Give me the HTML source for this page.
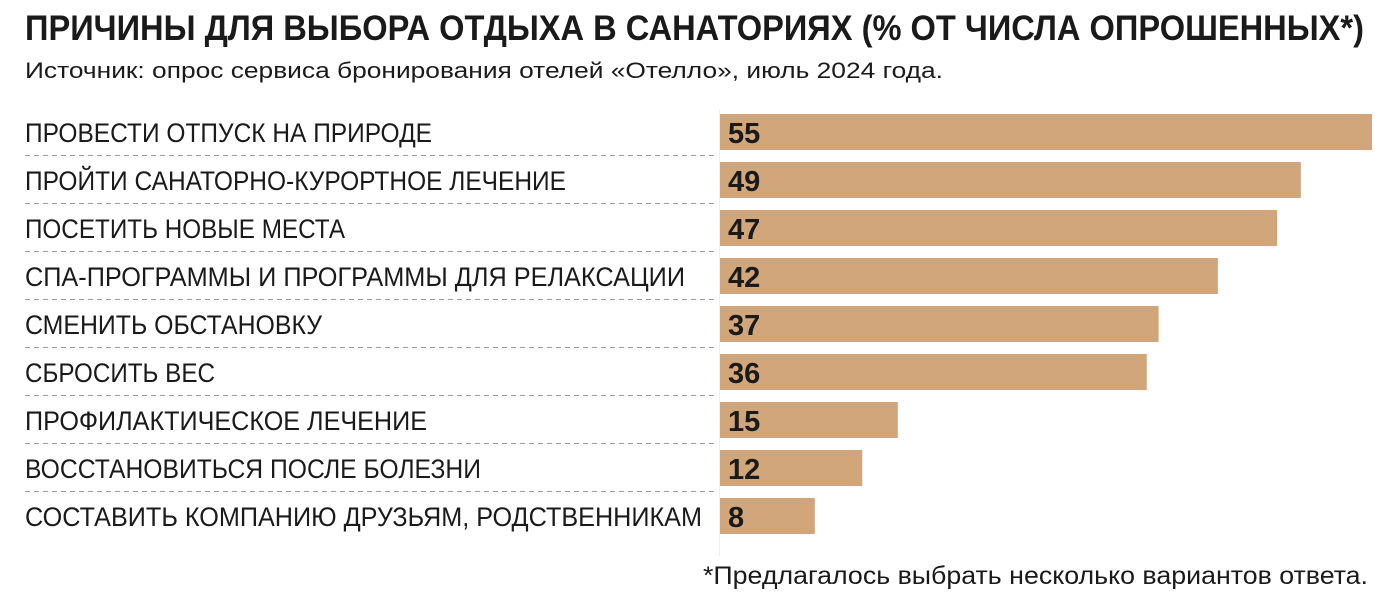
<!DOCTYPE html>
<html><head><meta charset="utf-8">
<style>
html,body{margin:0;padding:0;background:#fff;}
svg{display:block;}
text{fill:#1a1a1a;}
.n{font-family:"Liberation Sans Narrow","Liberation Sans","Noto Sans CJK SC",sans-serif;}
.w{font-family:"Liberation Sans","Noto Sans CJK SC",sans-serif;}
</style></head>
<body>
<svg id="chart" width="1395" height="595" viewBox="0 0 1395 595">
<text class="w" x="25" y="40" font-size="35" font-weight="bold" textLength="1339" lengthAdjust="spacingAndGlyphs">ПРИЧИНЫ ДЛЯ ВЫБОРА ОТДЫХА В САНАТОРИЯХ (% ОТ ЧИСЛА ОПРОШЕННЫХ*)</text>
<text class="w" x="25" y="78" font-size="22" textLength="918" lengthAdjust="spacingAndGlyphs">Источник: опрос сервиса бронирования отелей «Отелло», июль 2024 года.</text>
<line x1="719.5" y1="110" x2="719.5" y2="556" stroke="#eeeeee" stroke-width="1"/>
<g id="rows"></g>
<text class="n" x="1368" y="584" font-size="25" text-anchor="end" textLength="665" lengthAdjust="spacingAndGlyphs">*Предлагалось выбрать несколько вариантов ответа.</text>
</svg>
<script>
const categories = ["ПРОВЕСТИ ОТПУСК НА ПРИРОДЕ","ПРОЙТИ САНАТОРНО-КУРОРТНОЕ ЛЕЧЕНИЕ","ПОСЕТИТЬ НОВЫЕ МЕСТА","СПА-ПРОГРАММЫ И ПРОГРАММЫ ДЛЯ РЕЛАКСАЦИИ","СМЕНИТЬ ОБСТАНОВКУ","СБРОСИТЬ ВЕС","ПРОФИЛАКТИЧЕСКОЕ ЛЕЧЕНИЕ","ВОССТАНОВИТЬСЯ ПОСЛЕ БОЛЕЗНИ","СОСТАВИТЬ КОМПАНИЮ ДРУЗЬЯМ, РОДСТВЕННИКАМ"];
const values = [55,49,47,42,37,36,15,12,8];
const labelWidths = [407,541,320,660,297,190,402,456,677];

const NS = "http://www.w3.org/2000/svg";
const x0 = 720, xMax = 1372, vMax = 55;
const xScale = v => (v / vMax) * (xMax - x0);
const rowTop = i => 114 + i * 48;
const g = document.getElementById("rows");
function mk(tag, attrs){const e=document.createElementNS(NS,tag);for(const k in attrs)e.setAttribute(k,attrs[k]);g.appendChild(e);return e;}
categories.forEach((c,i)=>{
  const y = rowTop(i);
  const lab = mk("text",{class:"n",x:25,y:y+28,"font-size":27,textLength:labelWidths[i],lengthAdjust:"spacingAndGlyphs"});
  lab.textContent = c;
  
  
  const bar = mk("rect",{x:x0,y:y,width:xScale(values[i]),height:36,fill:"#d1a67b"});
  
  
  const val = mk("text",{class:"w",x:728,y:y+29,"font-size":29,"font-weight":"bold"});
  val.textContent = values[i];
  
  
  if(i < categories.length-1){
    const ln = mk("line",{x1:25,y1:y+41.5,x2:715,y2:y+41.5,stroke:"#9a9a9a","stroke-width":1,"stroke-dasharray":"5,4"});
    
    
  }
});
</script>
</body></html>
